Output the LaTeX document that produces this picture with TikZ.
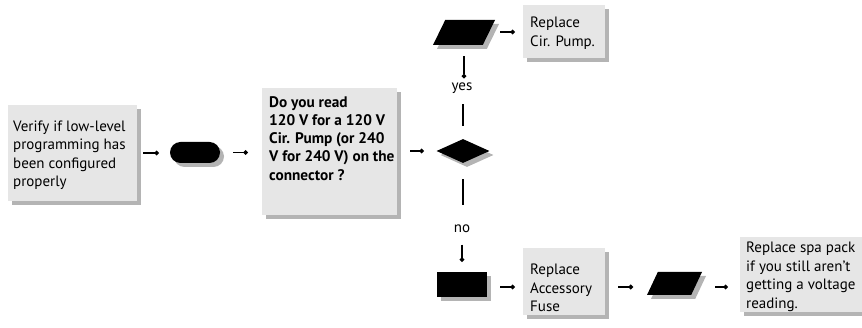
\documentclass[tikz,border=0pt]{standalone}
\usepackage{fontspec}
\setmainfont{PT Sans}
\usetikzlibrary{shapes.geometric,shapes.misc,shadows,arrows.meta}
\definecolor{boxgray}{HTML}{E6E6E6}
\definecolor{shgray}{HTML}{B4B4B4}
\begin{document}
\begin{tikzpicture}[x=1pt,y=-1pt,
  sh/.style={drop shadow={shadow xshift=4pt,shadow yshift=-4pt,fill=shgray,opacity=1}},
  box/.style={sh,rectangle,fill=boxgray,inner sep=0pt},
  blk/.style={sh,fill=black,inner sep=0pt},
  para/.style={blk,trapezium,inner sep=2pt,trapezium left angle=72,trapezium right angle=108,trapezium stretches=true},
  txt/.style={font=\fontsize{15}{18.5}\selectfont,align=left,inner sep=0pt},
  btxt/.style={font=\bfseries\fontsize{15.3}{18.3}\selectfont,align=left,inner sep=0pt},
  lbl/.style={font=\fontsize{15}{16}\selectfont,inner sep=0pt,text height=7pt,text depth=2pt},
  conn/.style={line width=1.3pt,-{Circle[length=4.5pt]}},
  seg/.style={line width=1.3pt}]
\useasboundingbox (0,0) rectangle (862,328);
% boxes
\node[box,minimum width=129pt,minimum height=96pt] (v) at (72.5,153) {};
\node[txt,anchor=west] (vt) at (13,155) {Verify if low-level\\programming has\\been configured\\properly};
\node[blk,rounded rectangle,minimum width=50pt,minimum height=21pt] (t) at (195,152.5) {};
\node[box,minimum width=135pt,minimum height=127pt] (q) at (329.5,151.5) {};
\node[btxt,anchor=north west] (qt) at (269,96) {Do you read\\120 V for a 120 V\\Cir. Pump (or 240\\V for 240 V) on the\\connector ?};
\node[blk,diamond,minimum width=53pt,minimum height=24pt] (d) at (463,151) {};
\node[para,minimum width=62pt,minimum height=25pt] (p1) at (464,32.5) {};
\node[box,minimum width=82pt,minimum height=53pt] (c) at (564,31.5) {};
\node[txt,anchor=west] (ct) at (530,33) {Replace\\Cir. Pump.};
\node[lbl] (yes) at (462,88) {yes};
\node[lbl] (no) at (462,230) {no};
\node[blk,rectangle,minimum width=50pt,minimum height=25pt] (r) at (462,284.5) {};
\node[box,minimum width=82pt,minimum height=67pt] (f) at (564,281.5) {};
\node[txt,anchor=west] (ft) at (530,288) {Replace\\Accessory\\Fuse};
\node[para,minimum width=55pt,minimum height=23pt] (p2) at (674.5,283.5) {};
\node[box,minimum width=140pt,minimum height=75pt] (s) at (810,274.5) {};
\node[txt,anchor=west] (st) at (746,277) {Replace spa pack\\if you still aren't\\getting a voltage\\reading.};
% connectors
\draw[conn,shorten <=6pt,shorten >=11pt] (v.east) -- (v.east -| t.west);
\draw[conn,shorten <=13pt,shorten >=14pt] (t.east) -- (t.east -| q.west);
\draw[conn,shorten <=13pt,shorten >=12.5pt] (d.west -| q.east) -- (d.west);
\draw[conn,shorten <=11pt,shorten >=5pt] (p1.south) -- (p1.south |- yes.north);
\draw[seg,shorten <=13pt,shorten >=11pt] (d.north) -- (d.north |- yes.south);
\draw[seg,shorten <=16pt,shorten >=20pt] (d.south) -- (d.south |- no.north);
\draw[conn,shorten <=10pt,shorten >=10pt] (no.south) -- (no.south |- r.north);
\draw[conn,shorten <=36pt,shorten >=8pt] ([yshift=0.5pt]p1.center) -- ([yshift=0.5pt]p1.center -| c.west);
\draw[conn,shorten <=13pt,shorten >=8pt] ([yshift=-2.5pt]r.east) -- ([yshift=-2.5pt]r.east -| f.west);
\draw[conn,shorten <=13pt,shorten >=41.5pt] ([yshift=-5.5pt]f.east) -- ([yshift=-5.5pt]f.east -| p2.center);
\draw[conn,shorten <=40.5pt,shorten >=12pt] ([yshift=-3.5pt]p2.center) -- ([yshift=-3.5pt]p2.center -| s.west);
\end{tikzpicture}
\end{document}
